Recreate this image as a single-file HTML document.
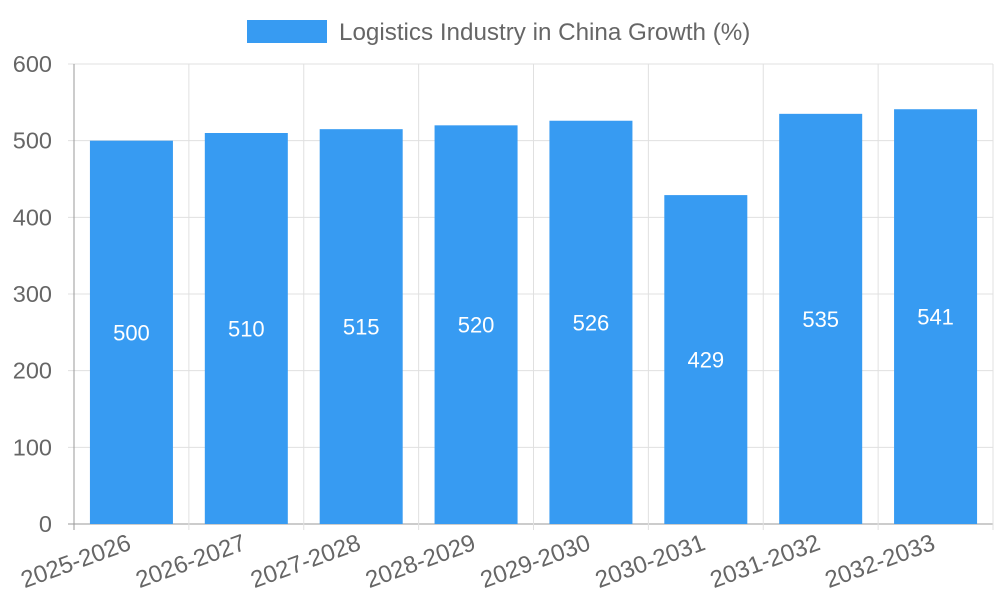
<!DOCTYPE html>
<html><head><meta charset="utf-8"><style>
body{margin:0;background:#fff;}
svg{display:block;font-family:"Liberation Sans",sans-serif;}
</style></head><body>
<svg id="chart" width="1000" height="600">
<g>
<rect x="247" y="20" width="80" height="23" fill="#379bf2"></rect>
<text x="339" y="40" font-size="24.2" fill="#666">Logistics Industry in China Growth (%)</text>
</g>
<g id="grid"></g>
<g id="bars"></g>
<g id="axes"></g>
</svg>
<script>
const categories=["2025-2026","2026-2027","2027-2028","2028-2029","2029-2030","2030-2031","2031-2032","2032-2033"];
const values=[500,510,515,520,526,429,535,541];
const yTicks=[0,100,200,300,400,500,600];
const NS="http://www.w3.org/2000/svg";
const L=74,R=993,T=64,B=524,yMax=600;
const bw=(R-L)/categories.length;
const y=v=>B-(v/yMax)*(B-T);
const x=i=>L+i*bw;
function mk(tag,attrs,parent,text){const e=document.createElementNS(NS,tag);for(const k in attrs)e.setAttribute(k,attrs[k]);if(text!==undefined)e.textContent=text;document.getElementById(parent).appendChild(e);return e;}
yTicks.forEach(t=>{
 const g=mk("line",{x1:68,x2:R,y1:y(t),y2:y(t),stroke:t===0?"#999":"#e0e0e0","stroke-width":1},"grid");
 
 
 const lb=mk("text",{x:52,y:y(t)+8,"text-anchor":"end","font-size":23.5,fill:"#666"},"axes",t);
 
 
});
for(let i=0;i<=categories.length;i++){
 const g=mk("line",{x1:x(i),x2:x(i),y1:T,y2:B+6,stroke:i===0?"#999":"#e0e0e0","stroke-width":1},"grid");
 
 
}
categories.forEach((c,i)=>{
 const cx=x(i)+bw/2, w=83;
 const r=mk("rect",{x:cx-w/2,y:y(values[i]),width:w,height:B-y(values[i]),fill:"#379bf2"},"bars");
 
 
 const v=mk("text",{x:cx,y:(y(values[i])+B)/2+8,"text-anchor":"middle","font-size":22,fill:"#fff"},"bars",values[i]);
 
 
 const ax=cx+1, ay=B+25;
 const lb=mk("text",{x:ax,y:ay,"text-anchor":"end","font-size":24,fill:"#666",transform:`rotate(-20 ${ax} ${ay})`},"axes",c);
 
 
});
</script>
</body></html>
